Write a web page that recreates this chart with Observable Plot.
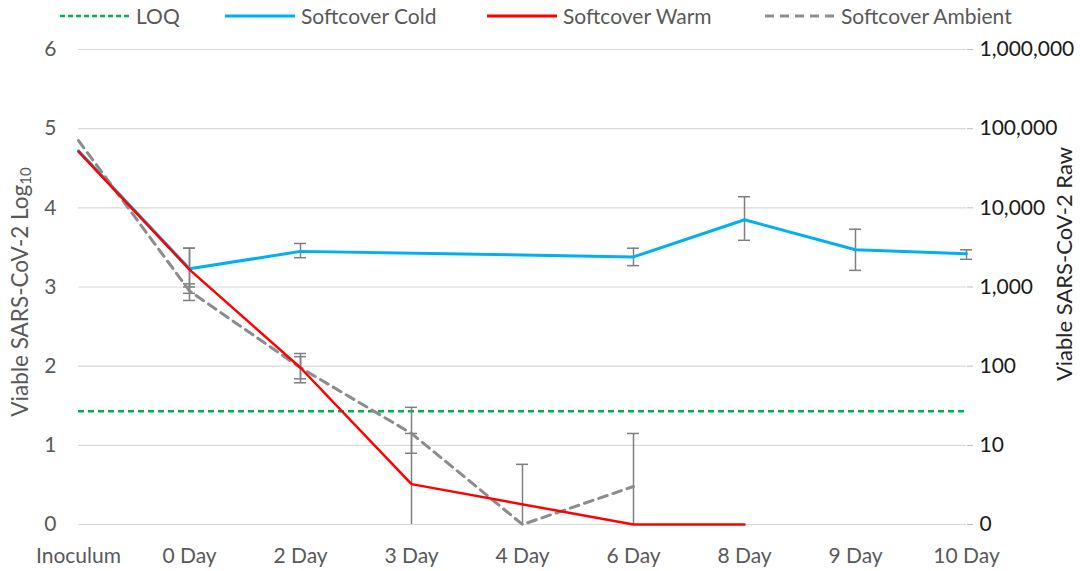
<!DOCTYPE html>
<html>
<head>
<meta charset="utf-8">
<script src="https://cdn.jsdelivr.net/npm/d3@7"></script>
<script src="https://cdn.jsdelivr.net/npm/@observablehq/plot@0.6"></script>
<style>
  html, body { margin: 0; padding: 0; background: #fff; }
  body { width: 1080px; height: 571px; position: relative; overflow: hidden; font-family: Lato, "Liberation Sans", sans-serif; }
  #legend { position: absolute; top: 0; left: 0; width: 1080px; height: 32px; }
  .item { position: absolute; top: 3px; display: flex; align-items: center; font-size: 21px; color: #595959; white-space: nowrap; }
  .item svg { margin-right: 6px; }
  #chart { position: absolute; top: 32px; left: 0; }
</style>
</head>
<body>
<div id="legend"></div>
<div id="chart"></div>
<script>
// ---- data ----
const categories = ["Inoculum", "0 Day", "2 Day", "3 Day", "4 Day", "6 Day", "8 Day", "9 Day", "10 Day"];
const seriesNames = ["Softcover Cold", "Softcover Warm", "Softcover Ambient"];
const coldValues    = [4.72, 3.23, 3.45, null, null, 3.38, 3.85, 3.47, 3.42];
const warmValues    = [4.71, 3.22, 1.98, 0.51, null, 0, 0, null, null];
const ambientValues = [4.85, 2.95, 1.98, 1.15, 0, 0.48, null, null, null];
// error bar bounds (low, high); low of 0 means clipped at axis (no cap)
const coldErrLow     = [null, 3.00, 3.37, null, null, 3.27, 3.59, 3.21, 3.35];
const coldErrHigh    = [null, 3.49, 3.55, null, null, 3.49, 4.14, 3.73, 3.47];
const warmErrLow     = [null, 2.92, 1.79, 0, null, null, null, null, null];
const warmErrHigh    = [null, 3.49, 2.16, 1.15, null, null, null, null, null];
const ambientErrLow  = [null, 2.83, 1.84, 0.90, 0, 0, null, null, null];
const ambientErrHigh = [null, 3.04, 2.12, 1.48, 0.76, 1.15, null, null, null];
const loqValue = 1.43;
const leftTicks = [0, 1, 2, 3, 4, 5, 6];
const rightTickLabels = ["0", "10", "100", "1,000", "10,000", "100,000", "1,000,000"];

// ---- build tables ----
const valueArrays = [coldValues, warmValues, ambientValues];
const lowArrays = [coldErrLow, warmErrLow, ambientErrLow];
const highArrays = [coldErrHigh, warmErrHigh, ambientErrHigh];
const points = [];
const errors = [];
seriesNames.forEach((s, k) => {
  categories.forEach((c, i) => {
    if (valueArrays[k][i] != null) points.push({series: s, cat: c, v: valueArrays[k][i]});
    if (lowArrays[k][i] != null) errors.push({series: s, cat: c, lo: lowArrays[k][i], hi: highArrays[k][i]});
  });
});
const colors = {"Softcover Cold": "#00b0f0", "Softcover Warm": "#ff0000", "Softcover Ambient": "#8c8c8c"};

const errCol = "#7f7f7f";
const capInset = -6;
const FONT = "Lato, 'Liberation Sans', sans-serif";

const plot = Plot.plot({
  width: 1080,
  height: 539,
  marginTop: 17,
  marginBottom: 47,
  marginLeft: 78,
  marginRight: 114,
  style: {fontFamily: FONT, fontSize: "21px", background: "#fff"},
  x: {type: "point", domain: categories, padding: 0, label: null},
  y: {domain: [0, 6], label: null},
  marks: [
    Plot.ruleY(leftTicks, {stroke: "#d9d9d9", strokeWidth: 1.2}),
    Plot.axisY({anchor: "left", ticks: leftTicks, tickSize: 0, tickPadding: 22, fill: "#595959", label: null, fontSize: 21,
      tickFormat: (d) => String(d)}),
    Plot.axisY({anchor: "right", ticks: leftTicks, tickSize: 6, tickPadding: 7, stroke: "#bfbfbf",
      tickFormat: (d) => rightTickLabels[leftTicks.indexOf(d)], fill: "#1a1a1a", label: null, fontSize: 21}),
    Plot.axisX({tickSize: 0, tickPadding: 24, fill: "#595959", label: null, fontSize: 21}),
    // LOQ
    Plot.ruleY([loqValue], {stroke: "#00b050", strokeWidth: 2.5, strokeDasharray: "6,4"}),
    // error bars
    Plot.ruleX(errors, {x: "cat", y1: "lo", y2: "hi", stroke: errCol, strokeWidth: 1.5}),
    Plot.ruleY(errors, {x1: "cat", x2: "cat", y: "hi", stroke: errCol, strokeWidth: 1.5, insetLeft: capInset, insetRight: capInset}),
    Plot.ruleY(errors.filter(d => d.lo > 0), {x1: "cat", x2: "cat", y: "lo", stroke: errCol, strokeWidth: 1.5, insetLeft: capInset, insetRight: capInset}),
    // series lines
    Plot.line(points.filter(d => d.series === "Softcover Cold"), {x: "cat", y: "v", stroke: colors["Softcover Cold"], strokeWidth: 3}),
    Plot.line(points.filter(d => d.series === "Softcover Ambient"), {x: "cat", y: "v", stroke: colors["Softcover Ambient"], strokeWidth: 3, strokeDasharray: "9,6"}),
    Plot.line(points.filter(d => d.series === "Softcover Warm"), {x: "cat", y: "v", stroke: colors["Softcover Warm"], strokeWidth: 2.5})
  ]
});
document.getElementById("chart").appendChild(plot);

// axis titles (with subscript)
const svg = d3.select(plot);
const lt = svg.append("text")
  .attr("transform", `translate(22, ${292 - 32}) rotate(-90)`)
  .attr("text-anchor", "middle")
  .attr("dominant-baseline", "middle")
  .attr("fill", "#595959")
  .attr("font-size", 22.5)
  .attr("font-family", FONT);
lt.append("tspan").text("Viable SARS-CoV-2 Log");
lt.append("tspan").attr("font-size", 15).attr("dy", 5).text("10");
svg.append("text")
  .attr("transform", `translate(1066, ${264 - 32}) rotate(-90)`)
  .attr("text-anchor", "middle")
  .attr("dominant-baseline", "middle")
  .attr("fill", "#262626")
  .attr("font-size", 22)
  .attr("font-family", FONT)
  .text("Viable SARS-CoV-2 Raw");

// legend
const legendItems = [
  {name: "LOQ", color: "#00b050", dash: "5,3", w: 2.5, left: 60},
  {name: "Softcover Cold", color: colors["Softcover Cold"], dash: null, w: 3, left: 225},
  {name: "Softcover Warm", color: colors["Softcover Warm"], dash: null, w: 3, left: 487},
  {name: "Softcover Ambient", color: colors["Softcover Ambient"], dash: "9,6", w: 3, left: 765}
];
const legend = d3.select("#legend");
legendItems.forEach(it => {
  const d = legend.append("div").attr("class", "item").style("left", it.left + "px");
  const s = d.append("svg").attr("width", 70).attr("height", 24);
  s.append("line").attr("x1", 0).attr("x2", 70).attr("y1", 12).attr("y2", 12)
    .attr("stroke", it.color).attr("stroke-width", it.w).attr("stroke-dasharray", it.dash);
  d.append("span").text(it.name);
});
</script>
</body>
</html>
